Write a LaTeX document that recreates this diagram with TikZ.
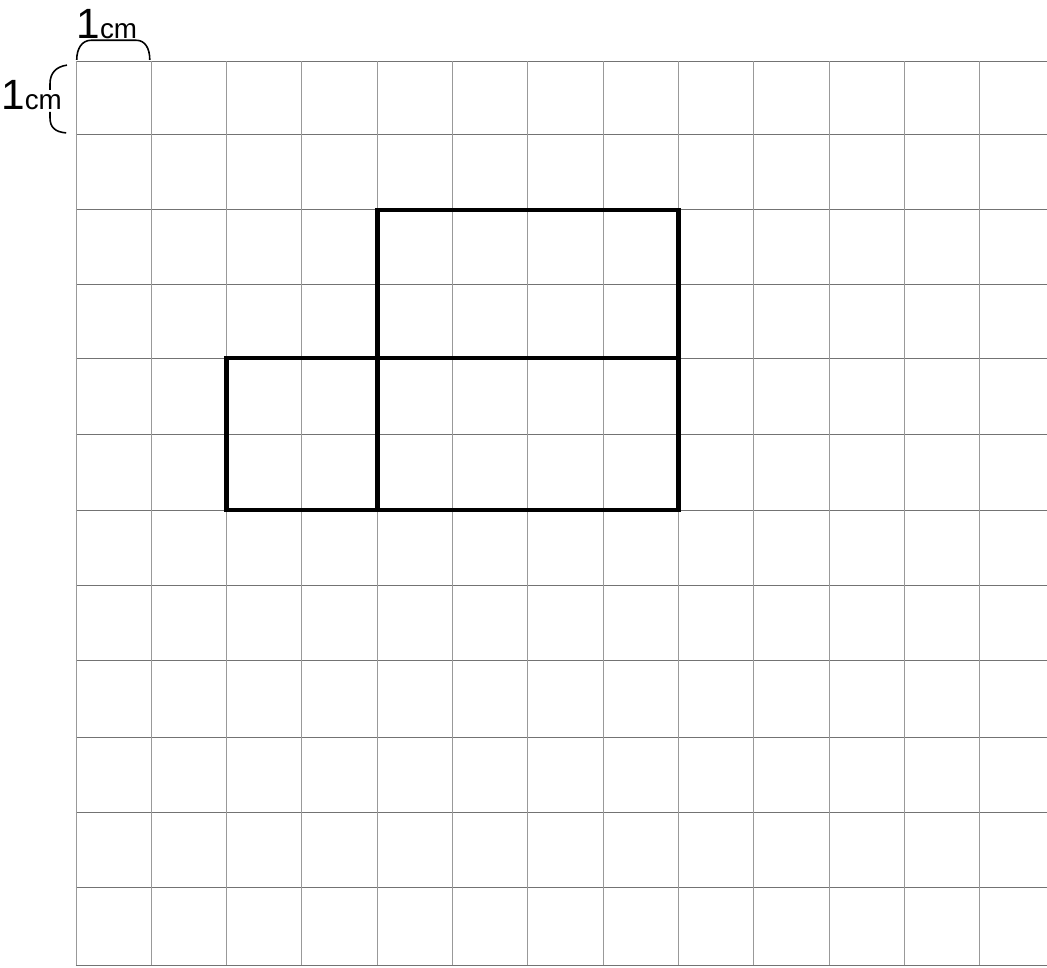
\documentclass[tikz,border=0pt]{standalone}
\usepackage{fontspec}
\setmainfont{Liberation Sans}
\tikzset{
  hgridline/.style={draw=black!55, line width=0.35pt},
  vgridline/.style={draw=black!40, line width=0.35pt},
  shapeline/.style={draw=black, line width=1.8pt, line join=miter},
  bracecurve/.style={draw=black, line width=0.6pt},
  unitlabel/.style={inner sep=0pt, anchor=base west, font=\fontsize{10.5}{10.5}\selectfont}
}
\begin{document}
\begin{tikzpicture}
\useasboundingbox[fill=white] (-1.009,-0.040) rectangle (12.895,12.815);
% grid
\foreach \y in {0,1.023,2.032,3.015,4.05,5.046,6.042,7.039,8.061,9.031,10.027,11.023,12.005}
  \draw[hgridline] (0,\y) -- (12.895,\y);
\foreach \x in {0,1,2,3,4,5,6,7,8,9,10,11,12}
  \draw[vgridline] (\x,0) -- (\x,12.005);
% figure
\draw[shapeline] (4,8.061) rectangle (8,10.027);
\draw[shapeline] (2,6.042) rectangle (8,8.061);
\draw[shapeline] (4,6.042) -- (4,8.061);
% unit braces
\draw[bracecurve] (0.01,12.02) .. controls (0.01,12.17) and (0.08,12.28) .. (0.2,12.28) -- (0.8,12.28) .. controls (0.92,12.28) and (0.98,12.17) .. (0.98,12.02);
\draw[bracecurve] (-0.12,11.95) .. controls (-0.26,11.93) and (-0.345,11.85) .. (-0.345,11.7) -- (-0.345,11.62);
\draw[bracecurve] (-0.345,11.33) -- (-0.345,11.25) .. controls (-0.345,11.12) and (-0.27,11.06) .. (-0.13,11.05);
\node[unitlabel] (topunit) at (0.0,12.31) {{\fontsize{16}{16}\selectfont 1}cm};
\node[unitlabel] (leftunit) at (-1.0,11.355) {{\fontsize{16}{16}\selectfont 1}cm};
\end{tikzpicture}
\end{document}
